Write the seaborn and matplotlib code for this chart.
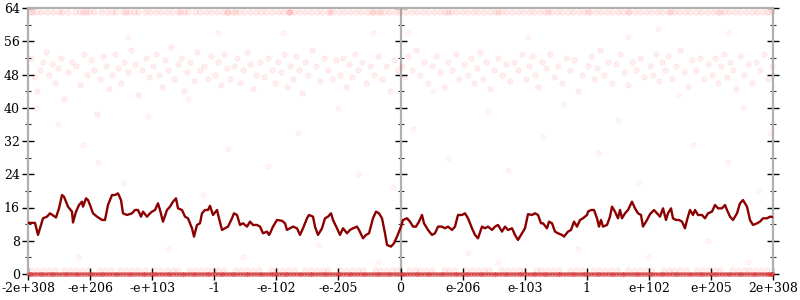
import numpy as np
import pandas as pd
import matplotlib
matplotlib.use("Agg")
import matplotlib.pyplot as plt
from matplotlib.ticker import MultipleLocator, FixedLocator, NullFormatter
import seaborn as sns

# x domain: 745 sample bins spanning -2e+308 .. 2e+308 (float-ordered)
x_tick_labels = ["-2e+308", "-e+206", "-e+103", "-1", "-e-102", "-e-205", "0",
                 "e-206", "e-103", "1", "e+102", "e+205", "2e+308"]

# running average line (bin, value)
line_x = [0, 7, 10, 15, 19, 22, 25, 28, 31, 34, 36, 40, 44, 45, 48, 51, 54, 55, 58, 60, 62, 65, 69, 74, 77,
          80, 84, 87, 90, 93, 95, 99, 104, 107, 110, 113, 115, 119, 122, 124, 127, 130, 132, 135, 139, 142,
          145, 148, 150, 154, 157, 160, 164, 166, 169, 172, 174, 177, 180, 182, 185, 189, 191, 194, 197, 200,
          204, 206, 209, 212, 215, 219, 222, 225, 229, 232, 235, 239, 241, 242, 245, 249, 254, 257, 259, 262,
          265, 269, 272, 275, 279, 281, 285, 287, 290, 294, 297, 300, 303, 305, 309, 312, 315, 319, 322, 325,
          329, 331, 335, 338, 341, 345, 348, 351, 354, 357, 359, 363, 366, 369, 373, 375, 379, 382, 385, 388,
          391, 394, 396, 400, 404, 407, 410, 414, 417, 420, 424, 427, 430, 434, 437, 440, 444, 447, 450, 454,
          457, 460, 464, 467, 470, 474, 477, 480, 484, 487, 490, 494, 497, 500, 504, 507, 510, 513, 515, 519,
          521, 524, 527, 530, 534, 536, 540, 543, 546, 549, 552, 555, 559, 560, 563, 566, 569, 571, 573, 575,
          579, 582, 584, 587, 590, 592, 594, 597, 600, 604, 607, 610, 613, 615, 619, 622, 626, 629, 632, 635,
          638, 640, 643, 645, 648, 651, 654, 657, 659, 662, 665, 667, 670, 674, 677, 680, 684, 687, 690, 694,
          697, 699, 702, 705, 709, 712, 715, 719, 722, 725, 729, 732, 735, 739, 742, 745]
line_y = [12.3, 12.3, 9.4, 13.4, 13.8, 14.6, 14.1, 13.6, 15.8, 19.0, 18.6, 16.2, 15.0, 12.4, 15.0, 16.6, 17.4,
          16.2, 18.2, 17.8, 16.6, 14.6, 13.8, 13.0, 13.0, 16.6, 19.0, 19.0, 19.4, 17.8, 14.6, 14.2, 14.6, 15.4,
          15.4, 13.8, 15.0, 13.8, 14.6, 15.0, 15.4, 17.0, 15.4, 12.6, 15.4, 16.2, 17.4, 18.2, 15.8, 15.4, 13.8,
          13.4, 11.0, 9.0, 11.8, 12.2, 14.6, 15.4, 15.4, 16.4, 14.2, 15.4, 13.4, 10.6, 11.0, 11.4, 13.4, 14.6,
          14.2, 11.8, 12.2, 11.4, 12.6, 11.8, 11.8, 11.4, 9.8, 10.2, 9.4, 9.8, 11.4, 13.0, 12.8, 12.2, 10.6,
          11.0, 11.4, 11.0, 9.4, 11.0, 13.4, 14.2, 13.8, 11.4, 9.4, 11.0, 13.4, 13.8, 14.6, 13.0, 11.0, 9.4,
          11.0, 9.8, 10.6, 11.0, 11.4, 10.6, 8.6, 9.4, 9.8, 13.4, 15.0, 14.6, 13.4, 9.8, 7.0, 6.6, 7.4, 9.0,
          11.4, 13.0, 13.4, 12.6, 11.4, 11.4, 12.6, 14.2, 12.2, 10.6, 9.4, 9.8, 11.4, 11.4, 11.0, 11.4, 10.6,
          11.4, 14.2, 14.2, 14.6, 13.4, 11.0, 9.4, 8.6, 11.4, 11.0, 11.4, 10.6, 11.4, 11.8, 10.2, 11.4, 10.6,
          11.0, 9.4, 8.2, 9.8, 11.0, 14.4, 14.2, 14.6, 14.2, 12.2, 12.2, 11.0, 12.6, 12.2, 10.2, 9.8, 9.4, 9.0,
          10.2, 10.6, 12.6, 11.4, 13.0, 13.4, 14.2, 15.0, 15.4, 15.4, 13.4, 11.4, 13.0, 11.4, 11.8, 13.8, 16.2,
          15.0, 13.4, 15.4, 13.4, 14.6, 15.4, 17.4, 15.8, 14.6, 14.2, 11.4, 13.0, 14.4, 15.4, 14.6, 13.8, 15.8,
          13.0, 14.6, 15.8, 13.4, 13.0, 13.0, 12.6, 11.0, 13.0, 15.4, 14.2, 15.4, 14.2, 14.2, 13.4, 14.6, 15.0,
          16.6, 15.8, 15.8, 16.6, 15.4, 13.8, 13.0, 14.6, 17.0, 17.8, 16.2, 13.0, 11.8, 12.2, 12.6, 13.4, 13.4,
          13.8, 13.7]

# individual samples: exact results (0 ulp)
zero_x = [1, 6, 12, 17, 23, 28, 34, 39, 45, 50, 56, 62, 67, 73, 78, 84, 89, 95, 101, 106, 112, 117, 123, 128,
          134, 140, 145, 151, 156, 162, 167, 173, 179, 184, 190, 195, 201, 206, 212, 218, 223, 229, 234, 240,
          245, 251, 257, 262, 268, 273, 279, 284, 290, 296, 301, 307, 312, 318, 323, 329, 335, 340, 346, 351,
          357, 362, 368, 374, 379, 385, 390, 396, 401, 407, 413, 418, 424, 429, 435, 440, 446, 452, 457, 463,
          468, 474, 479, 485, 491, 496, 502, 507, 513, 518, 524, 530, 535, 541, 546, 552, 557, 563, 569, 574,
          580, 585, 591, 596, 602, 608, 613, 619, 624, 630, 635, 641, 647, 652, 658, 663, 669, 674, 680, 686,
          691, 697, 702, 708, 713, 719, 725, 730, 736, 741, 744]
zero_x2 = [3, 9, 14, 20, 25, 31, 37, 42, 48, 53, 59, 64, 70, 75, 81, 87, 92, 98, 103, 109, 115, 120, 126, 131,
           137, 142, 148, 154, 159, 165, 170, 176, 181, 187, 193, 198, 204, 209, 215, 220, 226, 232, 237, 243,
           248, 254, 259, 265, 271, 276, 282, 287, 293, 298, 304, 310, 315, 321, 326, 332, 337, 343, 349, 354,
           360, 365, 371, 376, 382, 388, 393, 399, 404, 410, 415, 421, 427, 432, 438, 443, 449, 454, 460, 466,
           471, 477, 482, 488, 493, 499, 505, 510, 516, 521, 527, 532, 538, 544, 549, 555, 560, 566, 571, 577,
           583, 588, 594, 599, 605, 610, 616, 622, 627, 633, 638, 644, 649, 655, 661, 666, 672, 677, 683, 688,
           694, 700, 705, 711, 716, 722, 727, 733, 739, 743]
# samples at 1 ulp
one_x = [3, 15, 27, 36, 48, 60, 71, 83, 92, 104, 117, 126, 139, 150, 161, 173, 185, 196, 207, 219, 231, 243,
         254, 266, 277, 289, 300, 312, 324, 335, 347, 358, 369, 381, 392, 404, 416, 427, 438, 450, 461, 473,
         485, 496, 508, 519, 531, 542, 554, 565, 577, 589, 600, 612, 623, 635, 646, 658, 669, 681, 692, 704,
         716, 727, 739, 9, 21, 42, 54, 77, 98, 110, 132, 145, 167, 179, 190, 213, 225, 248, 260, 283, 295,
         318, 330, 352, 364, 387, 398, 421, 444, 456, 479, 491, 513, 525, 548, 571, 583, 606, 618, 641, 652,
         675, 687, 710, 721, 733]
# samples at 63 ulp
top_x = [2, 4, 8, 13, 19, 25, 31, 34, 40, 47, 52, 55, 58, 61, 66, 73, 79, 84, 88, 95, 98, 101, 106, 110, 117,
         122, 128, 133, 139, 144, 150, 152, 156, 160, 167, 172, 178, 183, 189, 195, 199, 200, 205, 207, 211,
         216, 222, 228, 233, 238, 244, 250, 255, 260, 261, 262, 266, 271, 277, 283, 289, 294, 300, 302, 305,
         311, 316, 322, 328, 333, 339, 344, 345, 350, 352, 356, 361, 367, 372, 378, 384, 389, 395, 400, 406,
         412, 417, 420, 423, 428, 434, 439, 445, 450, 456, 462, 467, 470, 473, 478, 484, 490, 495, 501, 506,
         512, 517, 520, 523, 529, 534, 540, 545, 551, 556, 560, 562, 568, 573, 579, 584, 590, 595, 600, 601,
         607, 612, 618, 623, 629, 634, 640, 642, 646, 651, 657, 662, 668, 673, 679, 685, 690, 692, 696, 701,
         707, 712, 718, 724, 729, 735, 740, 744]
# band of large errors around 44..56 ulp
band_x = [3, 6, 9, 12, 15, 18, 21, 24, 27, 30, 33, 36, 40, 44, 48, 52, 56, 59,
          63, 66, 69, 72, 75, 78, 81, 84, 87, 90, 93, 96, 100, 103, 107, 110, 114, 118, 121,
          125, 128, 131, 134, 137, 140, 143, 146, 150, 153, 156, 159, 162, 166, 169, 172, 176, 180, 183,
          187, 190, 193, 196, 199, 202, 206, 209, 212, 215, 219, 222, 225, 228, 232, 236, 240, 244, 247,
          250, 253, 256, 259, 262, 265, 268, 271, 274, 277, 280, 284, 288, 292, 296, 300, 304, 308,
          312, 315, 318, 321, 324, 327, 330, 334, 338, 342, 346, 350, 354, 358, 362, 366, 370,
          374, 377, 380, 384, 388, 392, 396, 400, 404, 408, 412, 416, 420, 424, 428, 431,
          436, 440, 443, 446, 449, 452, 455, 458, 462, 466, 470, 474, 478, 482, 486, 490, 494,
          498, 501, 504, 507, 510, 514, 518, 522, 526, 530, 534, 538, 542, 546, 550, 554,
          560, 563, 566, 569, 572, 576, 580, 584, 588, 592, 596, 600, 604, 608, 612, 616,
          622, 625, 628, 631, 634, 637, 640, 644, 648, 652, 656, 660, 664, 668, 672, 676, 680,
          684, 687, 690, 693, 696, 699, 702, 705, 708, 712, 716, 720, 724, 728, 732, 736, 740, 744]
band_y = [52, 47.5, 44, 49, 51, 53.5, 48, 50.5, 46, 49.5, 52, 42, 48.5, 51, 50, 45.5, 53, 48,
          51.5, 49, 38.5, 47, 52.5, 50, 44.5, 48, 53, 49.5, 46, 51, 48.5, 54, 50.5, 43, 49, 52, 47.5,
          50, 53, 48, 45, 51.5, 49, 54.5, 47, 50.5, 52, 44, 48.5, 51, 46.5, 53.5, 49, 50, 47, 52.5,
          48, 51, 45.5, 53, 49.5, 47, 50, 52, 46, 49, 53.5, 50.5, 44.5, 48, 51, 47.5, 52, 49, 46,
          51, 48.5, 53, 45, 50, 47, 52.5, 49, 43.5, 51, 48, 54, 50, 46.5, 52, 49, 47, 51.5,
          48, 52, 45, 50.5, 47.5, 53, 49, 51, 46, 50, 48, 52.5, 47, 50, 44, 51.5, 49,
          50, 47.5, 52.5, 49, 54, 48, 51, 46, 50, 52.5, 48.5, 45, 51, 49, 53, 47,
          50.5, 48, 52, 46, 49.5, 53.5, 47, 51, 44.5, 49, 52, 48, 50.5, 46.5, 51, 49, 53,
          47, 50, 52.5, 48, 45, 51, 49.5, 53, 47.5, 50, 46, 52, 49, 51.5, 44, 48,
          50, 52.5, 47, 49.5, 54, 48, 51, 46, 50.5, 53, 48.5, 45.5, 51, 49, 52, 47.5,
          50, 48, 53, 46.5, 51, 49, 52.5, 47, 50, 54, 48.5, 45, 51.5, 49, 52, 47, 50.5,
          48, 52, 46, 50, 53, 47.5, 51, 49, 44.5, 52.5, 48, 50.5, 46, 51, 49, 53, 47, 50]
# scattered other samples
sparse_x = [8, 30, 55, 70, 95, 120, 140, 160, 175, 200, 215, 240, 255, 270, 290, 310, 330, 345, 365, 385,
            405, 420, 440, 460, 480, 500, 515, 535, 550, 570, 590, 610, 630, 650, 665, 680, 700, 715, 730,
            742, 100, 190, 380, 600, 700, 50, 350, 470, 620, 720]
sparse_y = [40, 36, 31, 27, 22, 38, 6, 42, 19, 30, 4, 26, 58, 34, 7, 40, 24, 58, 21, 35,
            44, 28, 5, 39, 25, 57, 33, 41, 6, 29, 37, 22, 59, 43, 31, 8, 27, 40, 20,
            34, 57, 58, 58, 57, 58, 4, 3, 3, 4, 3]

# ---------------------------------------------------------------
plt.rcParams["font.family"] = ["DejaVu Serif"]
fig = plt.figure(figsize=(8, 3), dpi=100)
ax = fig.add_axes([28 / 800, 26 / 300, 745 / 800, 266 / 300])

red = "#ff0000"
common = dict(ax=ax, color=red, edgecolor=red, s=15, linewidth=0.8, clip_on=False,
              zorder=2, legend=False)
sns.scatterplot(x=band_x, y=band_y, alpha=0.06, **common)
sns.scatterplot(x=sparse_x, y=sparse_y, alpha=0.04, **common)
sns.scatterplot(x=top_x, y=[63] * len(top_x), alpha=0.07, **common)
sns.scatterplot(x=one_x, y=[1] * len(one_x), alpha=0.06, **common)
zero_all = zero_x + zero_x2
sns.scatterplot(x=zero_all, y=[0] * len(zero_all), ax=ax, color="#e02020", edgecolor="#e02020",
                alpha=0.45, s=9, linewidth=0.5, clip_on=False, zorder=3, legend=False)

sns.lineplot(x=line_x, y=line_y, ax=ax, color="#8b0000", linewidth=1.7, sort=False,
             estimator=None, zorder=4, legend=False)

ax.set_xlim(0, 745)
ax.set_ylim(0, 64)
ax.set_xlabel("")
ax.set_ylabel("")

gray = "#b0b0b0"
for s in ax.spines.values():
    s.set_color(gray)
    s.set_linewidth(1.6)

ax.xaxis.set_major_locator(FixedLocator(np.linspace(0, 745, len(x_tick_labels))))
ax.set_xticklabels(x_tick_labels)
ax.yaxis.set_major_locator(MultipleLocator(8))
ax.yaxis.set_minor_locator(MultipleLocator(4))
ax.tick_params(axis="both", which="major", direction="inout", length=8, width=1,
               color="black", labelsize=9, pad=2)
ax.tick_params(axis="y", which="minor", direction="inout", length=5, width=0.8, color="#333333")
ax.tick_params(axis="y", which="both", right=True, labelright=False)

mid = ax.secondary_yaxis(0.5)
for sp in mid.spines.values():
    sp.set_color(gray)
    sp.set_linewidth(1.6)
mid.yaxis.set_major_locator(MultipleLocator(8))
mid.yaxis.set_minor_locator(MultipleLocator(4))
mid.yaxis.set_major_formatter(NullFormatter())
mid.tick_params(which="major", direction="inout", length=8, width=1, color="black",
                labelleft=False, labelright=False)
mid.tick_params(which="minor", direction="inout", length=5, width=0.8, color="#333333")

fig.savefig("out.png", dpi=100)
